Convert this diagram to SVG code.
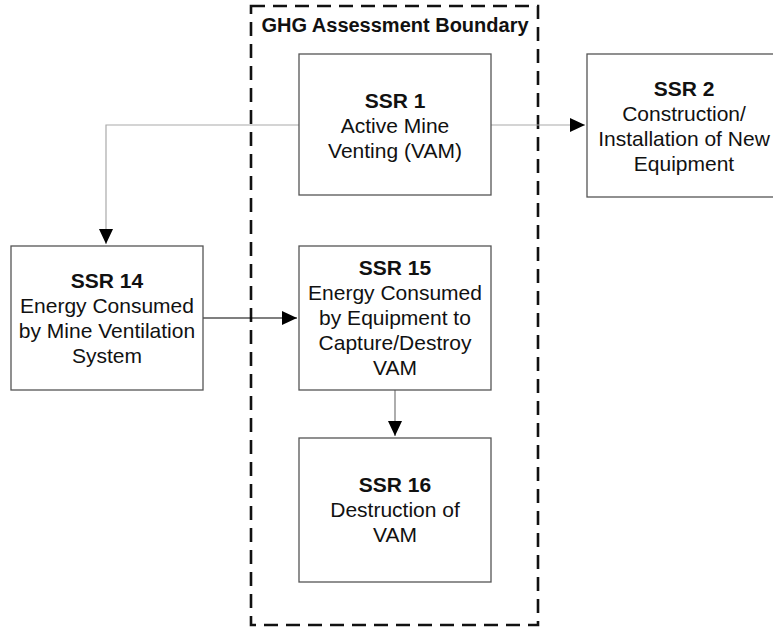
<svg xmlns="http://www.w3.org/2000/svg" width="773" height="632" viewBox="0 0 773 632">
  <style>
    .box { fill: #ffffff; stroke: #555555; stroke-width: 1.3; }
    .t { font-family: "Liberation Sans", Arial, sans-serif; font-size: 21px; fill: #111111; text-anchor: middle; }
    .b { font-weight: bold; }
    .title { font-family: "Liberation Sans", Arial, sans-serif; font-size: 20px; font-weight: bold; fill: #111111; text-anchor: middle; }
    .conn { fill: none; stroke-width: 1.2; }
  </style>
  <defs>
    <marker id="arr" markerUnits="userSpaceOnUse" markerWidth="16" markerHeight="14" refX="15" refY="7" orient="auto">
      <path d="M0,0 L15,7 L0,14 Z" fill="#000000"/>
    </marker>
  </defs>
  <rect width="773" height="632" fill="#ffffff"/>

  <g id="boundary">
    <rect x="251" y="6" width="287" height="619" fill="none" stroke="#111111" stroke-width="2.6" stroke-dasharray="14 8"/>
    <text class="title" x="395" y="32">GHG Assessment Boundary</text>
  </g>

  <g id="connectors">
    <path class="conn" d="M299,125 H106 V244" stroke="#aaaaaa" marker-end="url(#arr)"/>
    <path class="conn" d="M491,125 H585" stroke="#aaaaaa" marker-end="url(#arr)"/>
    <path class="conn" d="M203,318 H297" stroke="#000000" marker-end="url(#arr)"/>
    <path class="conn" d="M395,390 V436" stroke="#777777" marker-end="url(#arr)"/>
  </g>

  <g id="ssr1">
    <rect class="box" x="299" y="54" width="192" height="141" stroke="#444444"/>
    <text class="t b" x="395" y="108">SSR 1</text>
    <text class="t" x="395" y="133">Active Mine</text>
    <text class="t" x="395" y="158">Venting (VAM)</text>
  </g>

  <g id="ssr2">
    <rect class="box" x="587" y="54" width="194" height="143" stroke="#444444"/>
    <text class="t b" x="684" y="96">SSR 2</text>
    <text class="t" x="684" y="121">Construction/</text>
    <text class="t" x="684" y="146">Installation of New</text>
    <text class="t" x="684" y="171">Equipment</text>
  </g>

  <g id="ssr14">
    <rect class="box" x="11" y="246" width="192" height="144" stroke="#999999" stroke-width="1.6"/>
    <text class="t b" x="107" y="288">SSR 14</text>
    <text class="t" x="107" y="313">Energy Consumed</text>
    <text class="t" x="107" y="338">by Mine Ventilation</text>
    <text class="t" x="107" y="363">System</text>
  </g>

  <g id="ssr15">
    <rect class="box" x="299" y="246" width="192" height="144" stroke="#777777"/>
    <text class="t b" x="395" y="275">SSR 15</text>
    <text class="t" x="395" y="300">Energy Consumed</text>
    <text class="t" x="395" y="325">by Equipment to</text>
    <text class="t" x="395" y="350">Capture/Destroy</text>
    <text class="t" x="395" y="375">VAM</text>
  </g>

  <g id="ssr16">
    <rect class="box" x="299" y="438" width="192" height="144" stroke="#444444"/>
    <text class="t b" x="395" y="492">SSR 16</text>
    <text class="t" x="395" y="517">Destruction of</text>
    <text class="t" x="395" y="542">VAM</text>
  </g>
</svg>
